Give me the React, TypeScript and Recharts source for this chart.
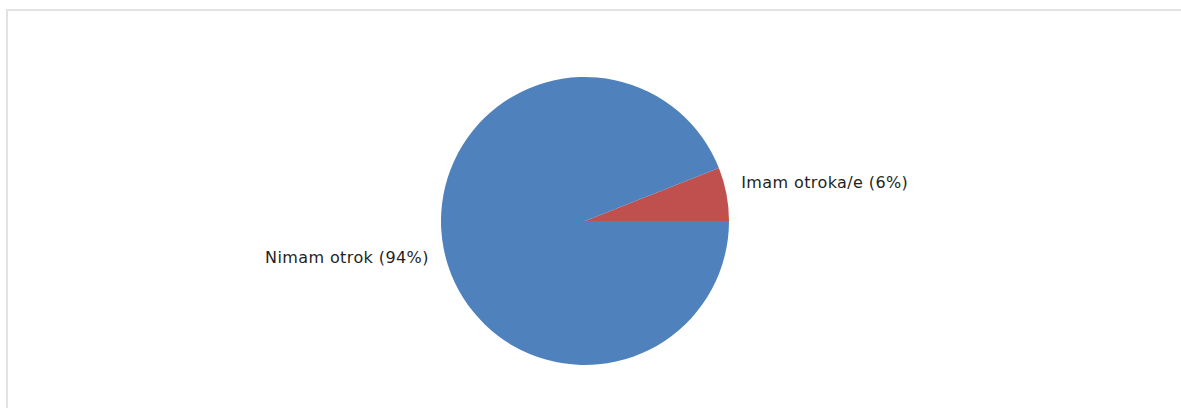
import { PieChart, Pie, Cell } from 'recharts'

const categories = ['Imam otroka/e', 'Nimam otrok']
const shares = [6, 94]
const colors = ['#C0504D', '#4F81BD']

const data = categories.map((name, i) => ({ name, value: shares[i] }))

const RAD = Math.PI / 180

function renderLabel(props: any) {
  const { cx, cy, midAngle, outerRadius, index } = props
  const d = outerRadius + 15
  const cos = Math.cos(-midAngle * RAD)
  const sin = Math.sin(-midAngle * RAD)
  const x = cx + d * cos
  const y = cy + d * sin
  const upper = sin < 0
  return (
    <text
      x={x}
      y={upper ? y - 9 : y + 7}
      textAnchor={cos >= 0 ? 'start' : 'end'}
      dominantBaseline="central"
      fill="#1f1f1f"
      fontSize={16}
      letterSpacing={0.4}
      fontFamily="'DejaVu Sans', Verdana, sans-serif"
    >
      {`${categories[index]} (${shares[index]}%)`}
    </text>
  )
}

export default function App() {
  return (
    <div style={{ position: 'fixed', inset: 0, overflow: 'hidden', background: '#fff' }}>
      <div
        style={{
          position: 'absolute',
          left: 6,
          top: 9,
          width: 1240,
          height: 440,
          border: '2px solid #e2e2e2',
        }}
      />
      <div style={{ position: 'absolute', left: 0, top: 0 }}>
        <PieChart width={1181} height={408} margin={{ top: 0, right: 0, bottom: 0, left: 0 }}>
          <Pie
            data={data}
            dataKey="value"
            nameKey="name"
            cx={585}
            cy={221}
            outerRadius={144}
            startAngle={0}
            endAngle={360}
            stroke="none"
            label={renderLabel}
            labelLine={false}
            isAnimationActive={false}
          >
            {data.map((d, i) => (
              <Cell key={d.name} fill={colors[i]} />
            ))}
          </Pie>
        </PieChart>
      </div>
    </div>
  )
}
